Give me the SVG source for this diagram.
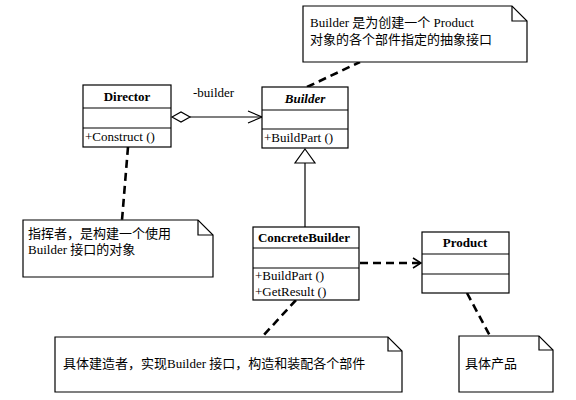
<svg xmlns="http://www.w3.org/2000/svg" width="576" height="400" viewBox="0 0 576 400">
<style>
.box{fill:#fff;stroke:#000;stroke-width:1.2}
.ln{stroke:#000;stroke-width:1.2;fill:none}
.dash{stroke:#000;stroke-width:2.6;fill:none;stroke-dasharray:8,5}
.t{font-family:"Liberation Serif","Noto Sans CJK SC",serif;font-size:13px;fill:#000}
.n{font-family:"Liberation Serif","Noto Sans CJK SC",serif;font-size:13px;font-weight:bold;fill:#000;text-anchor:middle}
.c{font-family:"Liberation Serif","Noto Sans CJK SC",serif;font-size:13px;fill:#000}
</style>
<defs>
<marker id="open" markerWidth="16" markerHeight="14" refX="15" refY="7" orient="auto" markerUnits="userSpaceOnUse">
<path d="M1,1 L15,7 L1,13" fill="none" stroke="#000" stroke-width="1.2"/>
</marker>
</defs>
<rect width="576" height="400" fill="#fff"/>
<g id="connectors">
<path class="ln" d="M190,117 L262,117" marker-end="url(#open)"/>
<path class="ln" d="M172,117 L181,112 L190,117 L181,122 Z" style="fill:#fff"/>
<text class="t" x="193" y="97">-builder</text>
<path class="ln" d="M305,163 L305,227"/>
<path class="ln" d="M305,149 L315,163 L295,163 Z" style="fill:#fff"/>
<path class="dash" d="M360,263 L420,263"/>
<path class="ln" style="stroke-width:1.5" d="M413,258 L421,263 L413,268"/>
<path class="dash" d="M307,87 L360,62"/>
<path class="dash" d="M128,147 L122,220"/>
<path class="dash" d="M296,300 L262,337"/>
<path class="dash" d="M467,293 L490,336"/>
</g>
<g id="Director">
<rect class="box" x="83" y="85" width="88" height="62"/>
<path class="ln" d="M83,108 H171 M83,128 H171"/>
<text class="n" x="127" y="101">Director</text>
<text class="t" x="85" y="141">+Construct ()</text>
</g>
<g id="Builder">
<rect class="box" x="262" y="87" width="86" height="61"/>
<path class="ln" d="M262,110 H348 M262,129 H348"/>
<text class="n" x="305" y="103" font-style="italic">Builder</text>
<text class="t" x="264" y="142">+BuildPart ()</text>
</g>
<g id="ConcreteBuilder">
<rect class="box" x="253" y="227" width="106" height="73"/>
<path class="ln" d="M253,248 H359 M253,268 H359"/>
<text class="n" x="304" y="242">ConcreteBuilder</text>
<text class="t" x="255" y="280">+BuildPart ()</text>
<text class="t" x="255" y="296">+GetResult ()</text>
</g>
<g id="Product">
<rect class="box" x="422" y="232" width="87" height="61"/>
<path class="ln" d="M422,254 H509 M422,274 H509"/>
<text class="n" x="465" y="247">Product</text>
</g>
<g id="noteBuilder">
<path class="box" d="M303,6 H512 L527,21 V62 H303 Z"/>
<path class="ln" d="M512,6 V21 H527"/>
<text class="c" x="310" y="27">Builder 是为创建一个 Product</text>
<text class="c" x="310" y="44">对象的各个部件指定的抽象接口</text>
</g>
<g id="noteDirector">
<path class="box" d="M23,220 H198 L213,235 V277 H23 Z"/>
<path class="ln" d="M198,220 V235 H213"/>
<text class="c" x="28" y="238">指挥者，是构建一个使用</text>
<text class="c" x="28" y="254">Builder 接口的对象</text>
</g>
<g id="noteConcrete">
<path class="box" d="M55,337 H388 L402,351 V392 H55 Z"/>
<path class="ln" d="M388,337 V351 H402"/>
<text class="c" x="63" y="368">具体建造者，实现Builder 接口，构造和装配各个部件</text>
</g>
<g id="noteProduct">
<path class="box" d="M459,336 H539 L553,350 V392 H459 Z"/>
<path class="ln" d="M539,336 V350 H553"/>
<text class="c" x="465" y="368">具体产品</text>
</g>
</svg>
